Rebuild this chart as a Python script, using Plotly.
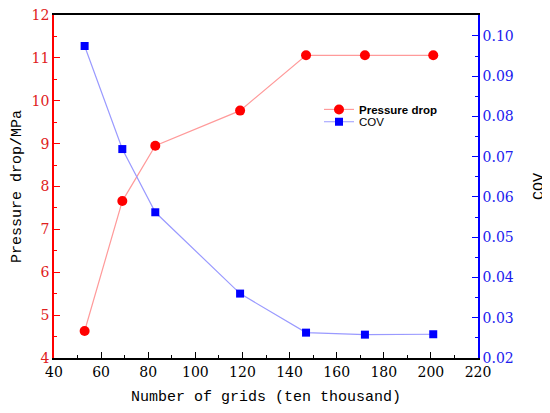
import plotly.graph_objects as go

grids = [53, 69, 83, 119, 147, 172, 201]
pressure_drop = [4.63, 7.66, 8.95, 9.77, 11.06, 11.06, 11.06]
cov = [0.0975, 0.0719, 0.0562, 0.0360, 0.0263, 0.0258, 0.0259]

fig = go.Figure()
fig.add_trace(go.Scatter(
    x=grids, y=pressure_drop, name="<b>Pressure drop</b>", mode="lines+markers",
    line=dict(color="#ff9a9a", width=1.2),
    marker=dict(symbol="circle", size=10, color="#ff0000"),
    yaxis="y", legend="legend"))
fig.add_trace(go.Scatter(
    x=grids, y=cov, name="COV", mode="lines+markers",
    line=dict(color="#9a9aff", width=1.2),
    marker=dict(symbol="square", size=8, color="#0000ff"),
    yaxis="y2", legend="legend2"))

tickfont_serif = "DejaVu Serif"
title_font = "Liberation Mono"
leg_font = dict(family="Liberation Sans", size=11.5, color="black")

fig.update_layout(
    width=550, height=413,
    margin=dict(l=46, r=80, t=7, b=63),
    paper_bgcolor="white", plot_bgcolor="white",
    showlegend=True,
    legend=dict(x=0.625, y=0.767, xanchor="left", yanchor="top",
                bgcolor="rgba(0,0,0,0)", font=leg_font, itemwidth=30),
    legend2=dict(x=0.625, y=0.731, xanchor="left", yanchor="top",
                 bgcolor="rgba(0,0,0,0)", font=leg_font, itemwidth=30),
    xaxis=dict(range=[40, 220], dtick=20, tick0=40, ticks="inside", ticklen=6, tickwidth=1.2,
               tickcolor="black", showline=True, linecolor="black", linewidth=1.5, mirror=True,
               showgrid=False, zeroline=False, automargin=False, ticklabeloverflow="allow",
               minor=dict(dtick=10, ticks="inside", ticklen=3, tickcolor="black", showgrid=False),
               tickfont=dict(family=tickfont_serif, size=14, color="black"),
               title=dict(text="Number of grids (ten thousand)",
                          font=dict(family=title_font, size=15, color="black"), standoff=12)),
    yaxis=dict(range=[4, 12], dtick=1, ticks="inside", ticklen=6, tickwidth=1.2,
               tickcolor="#ff0000", showline=True, linecolor="#ff0000", linewidth=1.5,
               showgrid=False, zeroline=False, automargin=False, ticklabeloverflow="allow",
               minor=dict(dtick=0.5, ticks="inside", ticklen=3, tickcolor="#ff0000", showgrid=False),
               tickfont=dict(family=tickfont_serif, size=14, color="#e02020"),
               title=dict(text="Pressure drop/MPa",
                          font=dict(family=title_font, size=15, color="black"), standoff=6)),
    yaxis2=dict(range=[0.02, 0.1052], dtick=0.01, tick0=0.02, tickformat=".2f",
                overlaying="y", side="right", ticks="inside", ticklen=6, tickwidth=1.2,
                tickcolor="#0000ff", showline=True, linecolor="#0000ff", linewidth=1.5,
                showgrid=False, zeroline=False, automargin=False, ticklabeloverflow="allow",
                minor=dict(dtick=0.005, ticks="inside", ticklen=3, tickcolor="#0000ff", showgrid=False),
                tickfont=dict(family=tickfont_serif, size=14, color="#2020ee"),
                title=dict(text="COV", font=dict(family=title_font, size=15, color="black"), standoff=20)),
)

fig.write_html("out.html")
